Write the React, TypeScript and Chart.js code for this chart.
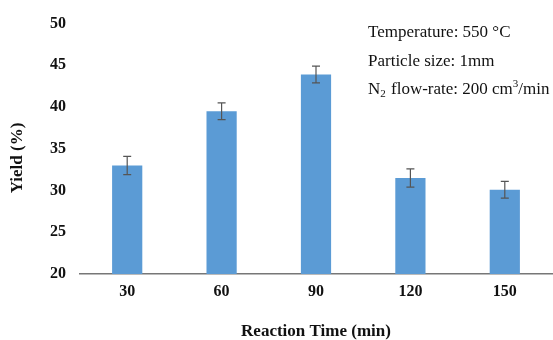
import React, { useEffect, useRef } from "react";
import { Chart, registerables } from "chart.js";

Chart.register(...registerables);

const categories = ["30", "60", "90", "120", "150"];
const yieldValues = [33.0, 39.5, 43.9, 31.5, 30.1];
const yieldErrors = [1.1, 1.0, 1.0, 1.1, 1.0];
const yTicks = [20, 25, 30, 35, 40, 45, 50];
const xTitle = "Reaction Time (min)";
const yTitle = "Yield (%)";
const noteLines = ["Temperature: 550 °C", "Particle size: 1mm"];

const SERIF = "'Liberation Serif', 'Times New Roman', serif";

const errorBarPlugin = {
  id: "errorBars",
  afterDatasetsDraw(chart: any) {
    const { ctx, scales } = chart;
    const xs = scales.x;
    const ys = scales.y;
    ctx.save();
    ctx.strokeStyle = "#555555";
    ctx.lineWidth = 1.2;
    yieldValues.forEach((v, i) => {
      const x = xs.getPixelForValue(i);
      const yt = ys.getPixelForValue(v + yieldErrors[i]);
      const yb = ys.getPixelForValue(v - yieldErrors[i]);
      ctx.beginPath();
      ctx.moveTo(x, yt);
      ctx.lineTo(x, yb);
      ctx.moveTo(x - 4, yt);
      ctx.lineTo(x + 4, yt);
      ctx.moveTo(x - 4, yb);
      ctx.lineTo(x + 4, yb);
      ctx.stroke();
    });
    ctx.restore();
  },
};

const textPlugin = {
  id: "texts",
  afterDraw(chart: any) {
    const { ctx } = chart;
    ctx.save();
    // y title
    ctx.fillStyle = "#111111";
    ctx.font = `bold 17px ${SERIF}`;
    ctx.textAlign = "center";
    ctx.textBaseline = "middle";
    ctx.translate(18, 158);
    ctx.rotate(-Math.PI / 2);
    ctx.fillText(yTitle, 0, 0);
    ctx.restore();

    ctx.save();
    ctx.fillStyle = "#111111";
    ctx.textAlign = "left";
    ctx.textBaseline = "alphabetic";
    ctx.font = `17px ${SERIF}`;
    const x0 = 368;
    ctx.fillText(noteLines[0], x0, 37);
    ctx.fillText(noteLines[1], x0, 65.5);
    // N2 flow-rate line with sub/superscript
    let x = x0;
    const base = 94;
    ctx.font = `17px ${SERIF}`;
    ctx.fillText("N", x, base);
    x += ctx.measureText("N").width;
    ctx.font = `11px ${SERIF}`;
    ctx.fillText("2", x, base + 3);
    x += ctx.measureText("2").width + 1;
    ctx.font = `17px ${SERIF}`;
    const mid = " flow-rate: 200 cm";
    ctx.fillText(mid, x, base);
    x += ctx.measureText(mid).width;
    ctx.font = `11px ${SERIF}`;
    ctx.fillText("3", x, base - 7);
    x += ctx.measureText("3").width;
    ctx.font = `17px ${SERIF}`;
    ctx.fillText("/min", x, base);
    ctx.restore();
  },
};

export default function App() {
  const ref = useRef<HTMLCanvasElement | null>(null);

  useEffect(() => {
    if (!ref.current) return;
    const chart = new Chart(ref.current, {
      type: "bar",
      data: {
        labels: categories,
        datasets: [
          {
            data: yieldValues,
            backgroundColor: "#5B9BD5",
            borderWidth: 0,
            barPercentage: 0.32,
            categoryPercentage: 1,
          },
        ],
      },
      options: {
        animation: false,
        responsive: false,
        maintainAspectRatio: false,
        layout: { padding: { top: 22, left: 0, right: 1, bottom: 0 } },
        plugins: {
          legend: { display: false },
          tooltip: { enabled: false },
        },
        scales: {
          x: {
            grid: { display: false, drawTicks: false },
            border: { display: true, color: "#777777", width: 1.5 },
            ticks: {
              color: "#111111",
              padding: 8,
              font: { family: SERIF, size: 16, weight: "bold" },
            },
            title: {
              display: true,
              text: xTitle,
              color: "#111111",
              padding: { top: 0, bottom: 0 },
              font: { family: SERIF, size: 17, weight: "bold", lineHeight: 1.0 },
            },
            afterFit(scale: any) {
              scale.height = 66;
            },
          },
          y: {
            min: 20,
            max: 50,
            afterBuildTicks(scale: any) {
              scale.ticks = yTicks.map((v) => ({ value: v }));
            },
            grid: { display: false, drawTicks: false },
            border: { display: false },
            ticks: {
              color: "#111111",
              padding: 14,
              font: { family: SERIF, size: 16, weight: "bold" },
            },
            afterFit(scale: any) {
              scale.width = 80;
            },
          },
        },
      },
      plugins: [errorBarPlugin, textPlugin],
    } as any);
    return () => chart.destroy();
  }, []);

  return (
    <div style={{ position: "fixed", left: 0, top: 0, width: 553, height: 340, background: "#ffffff" }}>
      <canvas ref={ref} width={553} height={340} style={{ display: "block" }} />
    </div>
  );
}
